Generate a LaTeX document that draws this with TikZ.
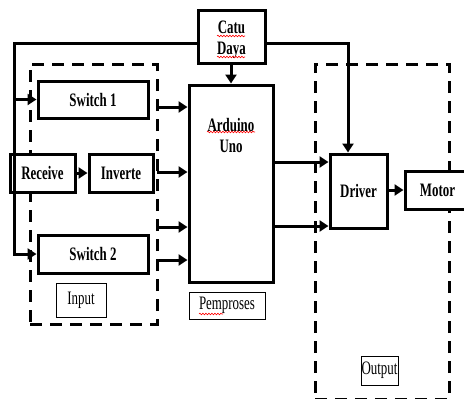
\documentclass[tikz,border=0pt]{standalone}
\usepackage{fontspec}
\setmainfont{Liberation Serif}[FakeStretch=0.68]
\usetikzlibrary{arrows.meta,decorations.pathmorphing}
\begin{document}
\begin{tikzpicture}[x=1pt,y=-1pt,
  blk/.style={draw,line width=3pt,fill=white,inner sep=0pt,font=\fontsize{19}{21}\selectfont\bfseries,align=center},
  lbl/.style={draw,line width=0.8pt,fill=white,inner sep=0pt,font=\fontsize{19}{21}\selectfont},
  txt/.style={inner sep=0pt,font=\fontsize{19}{21}\selectfont\bfseries,align=center},
  dashbox/.style={draw,line width=3pt,dash pattern=on 12pt off 8pt,inner sep=0pt},
  arr/.style={line width=3pt,-{Triangle[length=9pt,width=11pt]}},
  wavy/.style={red,line width=0.6pt,decorate,decoration={snake,segment length=3pt,amplitude=0.8pt}}]
\useasboundingbox (0,0) rectangle (464,399);
% dashed groups
\node[dashbox,minimum width=127pt,minimum height=260pt] (inbox) at (93.5,194) {};
\node[dashbox,minimum width=134pt,minimum height=335pt] (outbox) at (382,231.5) {};
% coordinates for connectors
\coordinate (tl) at (14,43);
\coordinate (tr) at (348,43);
\coordinate (br1) at (14,100);
\coordinate (i1) at (157,107);
\coordinate (i2) at (157,172);
\coordinate (i3) at (157,227);
\coordinate (i4) at (157,260);
\coordinate (o1) at (273,162);
\coordinate (o2) at (273,226);
% blocks
\node[blk,minimum width=67pt,minimum height=53pt] (catu) at (231.5,36.5) {};
\node[txt] (catutxt) at (231.5,40) {Catu\\Daya};
\node[blk,minimum width=84pt,minimum height=197pt] (ard) at (231,183.5) {};
\node[txt] (ardtxt) at (231,135) {Arduino\\Uno};
\node[blk,minimum width=110pt,minimum height=37pt] (sw1) at (93,99.5) {Switch 1};
\node[blk,minimum width=65pt,minimum height=38pt] (rec) at (42.5,173) {Receive};
\node[blk,minimum width=64pt,minimum height=38pt] (inv) at (121,173) {Inverte};
\node[blk,minimum width=110pt,minimum height=38pt] (sw2) at (93,254) {Switch 2};
\node[blk,minimum width=57pt,minimum height=74pt] (drv) at (358.5,191) {Driver};
\node[blk,minimum width=65pt,minimum height=38pt,text width=50pt] (mot) at (437.5,190) {Motor};
% labels
\node[lbl,minimum width=50pt,minimum height=34pt] (inlbl) at (81,300) {Input};
\node[lbl,minimum width=76pt,minimum height=27pt] (prlbl) at (227,305.5) {Pemproses};
\node[lbl,minimum width=37pt,minimum height=29pt] (outlbl) at (379.5,370.5) {Output};
% connectors
\draw[arr] (catu.west|-tl) -- (tl) |- (sw2.west);
\draw[arr] (br1|-sw1.west) -- (sw1.west);
\draw[arr] (catu.east|-tr) -- (tr) -- (tr|-drv.north);
\draw[arr] (catu.south-|ard.north) -- (ard.north);
\draw[arr] (rec.east) -- (inv.west);
\draw[arr] (i1) -- (i1-|ard.west);
\draw[arr] (i2) -- (i2-|ard.west);
\draw[arr] (i3) -- (i3-|ard.west);
\draw[arr] (i4) -- (i4-|ard.west);
\draw[arr] (o1) -- (o1-|drv.west);
\draw[arr] (o2) -- (o2-|drv.west);
\draw[arr] (drv.east|-mot.west) -- (mot.west);
% spell-check marks
\draw[wavy] (217,36) -- (245,36);
\draw[wavy] (217,57) -- (245,57);
\draw[wavy] (207,132) -- (255,132);
\draw[wavy] (199,314) -- (223,314);
\end{tikzpicture}
\end{document}
